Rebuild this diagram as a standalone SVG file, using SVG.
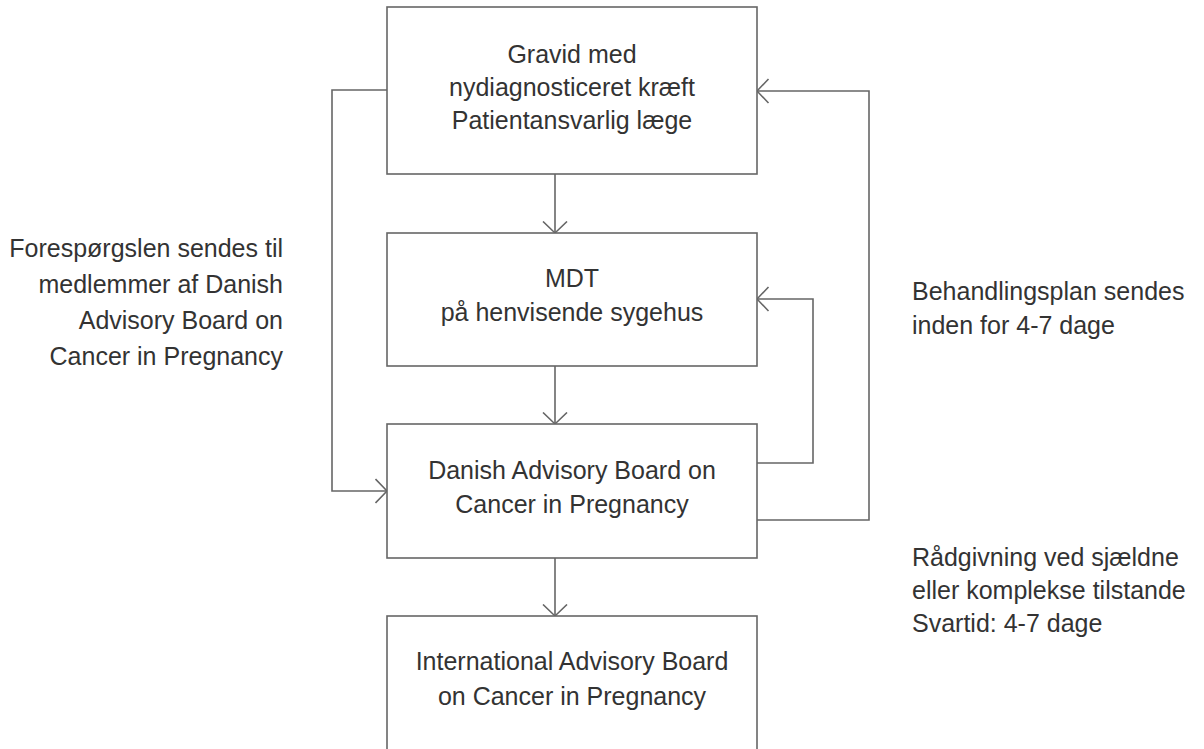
<svg xmlns="http://www.w3.org/2000/svg" width="1204" height="749" viewBox="0 0 1204 749">
<style>
.box{fill:#fff;stroke:#666;stroke-width:1.6}
.con{fill:none;stroke:#666;stroke-width:1.6}
text{font-family:"Liberation Sans",Arial,sans-serif;font-size:25px;fill:#333}
.c{text-anchor:middle}
.r{text-anchor:end}
</style>
<defs>
<marker id="arr" viewBox="0 0 14 26" markerWidth="14" markerHeight="26" refX="12.5" refY="13" orient="auto" markerUnits="userSpaceOnUse">
<path d="M1,1 L12.5,13 L1,25" fill="none" stroke="#666" stroke-width="1.6"/>
</marker>
</defs>
<rect width="1204" height="749" fill="#fff"/>
<g id="connectors">
<path class="con" d="M555,174 V233" marker-end="url(#arr)"/>
<path class="con" d="M555,366 V424" marker-end="url(#arr)"/>
<path class="con" d="M555,558 V616" marker-end="url(#arr)"/>
<path class="con" d="M387,90 H332 V491 H387" marker-end="url(#arr)"/>
<path class="con" d="M757,463 H813 V299 H757" marker-end="url(#arr)"/>
<path class="con" d="M757,520 H869 V91 H757" marker-end="url(#arr)"/>
</g>
<g id="n1">
<rect class="box" x="387" y="7" width="370" height="167"/>
<text class="c" x="572" y="63">Gravid med</text>
<text class="c" x="572" y="96">nydiagnosticeret kræft</text>
<text class="c" x="572" y="129">Patientansvarlig læge</text>
</g>
<g id="n2">
<rect class="box" x="387" y="233" width="370" height="133"/>
<text class="c" x="572" y="287">MDT</text>
<text class="c" x="572" y="321">på henvisende sygehus</text>
</g>
<g id="n3">
<rect class="box" x="387" y="424" width="370" height="134"/>
<text class="c" x="572" y="479">Danish Advisory Board on</text>
<text class="c" x="572" y="513">Cancer in Pregnancy</text>
</g>
<g id="n4">
<rect class="box" x="387" y="616" width="370" height="150"/>
<text class="c" x="572" y="670">International Advisory Board</text>
<text class="c" x="572" y="705">on Cancer in Pregnancy</text>
</g>
<g id="label-left">
<text class="r" x="283" y="257">Forespørgslen sendes til</text>
<text class="r" x="283" y="293">medlemmer af Danish</text>
<text class="r" x="283" y="329">Advisory Board on</text>
<text class="r" x="283" y="365">Cancer in Pregnancy</text>
</g>
<g id="label-right1">
<text x="912" y="300">Behandlingsplan sendes</text>
<text x="912" y="334">inden for 4-7 dage</text>
</g>
<g id="label-right2">
<text x="912" y="566">Rådgivning ved sjældne</text>
<text x="912" y="599">eller komplekse tilstande</text>
<text x="912" y="632">Svartid: 4-7 dage</text>
</g>
</svg>
